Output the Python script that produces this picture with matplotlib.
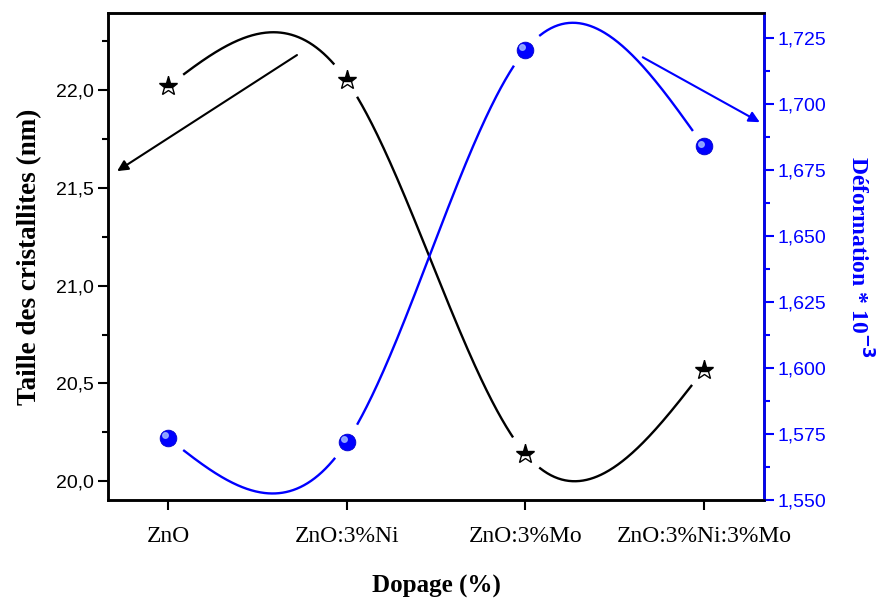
import numpy as np
import matplotlib.pyplot as plt
from matplotlib.ticker import FuncFormatter, MultipleLocator
from matplotlib.transforms import offset_copy

# echantillons
samples = ['ZnO', 'ZnO:3%Ni', 'ZnO:3%Mo', 'ZnO:3%Ni:3%Mo']
taille = [22.02, 22.05, 20.14, 20.57]          # nm
deformation = [1.5735, 1.572, 1.7205, 1.684]   # * 10^-3

BLUE = '#0000ff'
serif = ['Liberation Serif', 'DejaVu Serif']
sans = ['Liberation Sans', 'DejaVu Sans']


def natural_spline(y, n=600):
    # spline cubique naturelle, pas unitaire
    y = np.asarray(y, float)
    k = len(y)
    A = np.zeros((k, k))
    r = np.zeros(k)
    A[0, 0] = A[-1, -1] = 1
    for i in range(1, k - 1):
        A[i, i - 1:i + 2] = [1, 4, 1]
        r[i] = 6 * (y[i - 1] - 2 * y[i] + y[i + 1])
    M = np.linalg.solve(A, r)
    xs = np.linspace(0, k - 1, n)
    ys = np.empty_like(xs)
    for j, x in enumerate(xs):
        i = min(int(x), k - 2)
        t = x - i
        ys[j] = ((1 - t) * y[i] + t * y[i + 1]
                 + ((1 - t) ** 3 - (1 - t)) * M[i] / 6
                 + (t ** 3 - t) * M[i + 1] / 6)
    return xs, ys


def gapped(ax, xs, ys, xp, yp, gap=20):
    # coupe la courbe autour des symboles
    pts = ax.transData.transform(np.column_stack([xs, ys]))
    mk = ax.transData.transform(np.column_stack([xp, yp]))
    ys = ys.copy()
    for m in mk:
        d = np.hypot(pts[:, 0] - m[0], pts[:, 1] - m[1])
        ys[d < gap] = np.nan
    return ys


fig, ax = plt.subplots(figsize=(8.76, 6.01), dpi=100)
fig.subplots_adjust(left=0.1233, right=0.872, bottom=0.168, top=0.978)
ax2 = ax.twinx()

x = np.arange(len(samples))
ax.set_xlim(-0.336, 3.336)
ax.set_ylim(19.903, 22.394)
ax2.set_ylim(1.550, 1.7345)

xs, ys = natural_spline(taille)
ax.plot(xs, gapped(ax, xs, ys, x, taille), color='black', lw=1.7)
ax.plot(x, taille, ls='none', marker='*', ms=14, fillstyle='top',
        markerfacecolor='black', markerfacecoloralt='white',
        markeredgecolor='black', markeredgewidth=1.0)

xs2, ys2 = natural_spline(deformation)
ax2.plot(xs2, gapped(ax2, xs2, ys2, x, deformation), color=BLUE, lw=1.7)
ax2.plot(x, deformation, ls='none', marker='o', ms=12, color=BLUE,
         markeredgecolor='#0000cc', markeredgewidth=0.6)
hl = offset_copy(ax2.transData, fig=fig, x=-2, y=2, units='points')
ax2.plot(x, deformation, ls='none', marker='o', ms=4, color='#9ab0ff',
         alpha=0.9, transform=hl)

# fleches
ax.annotate('', xy=(-0.285, 21.586), xytext=(0.722, 22.18),
            arrowprops=dict(arrowstyle='-|>', color='black', lw=1.5,
                            mutation_scale=16, shrinkA=0, shrinkB=0))
ax2.annotate('', xy=(3.313, 1.6932), xytext=(2.658, 1.7178),
             arrowprops=dict(arrowstyle='-|>', color=BLUE, lw=1.5,
                             mutation_scale=16, shrinkA=0, shrinkB=0))

# axes
comma = lambda fmt: FuncFormatter(lambda v, p: (fmt % v).replace('.', ','))
ax.set_xticks(x)
ax.set_xticklabels(samples, fontfamily=serif, fontsize=17)
ax.yaxis.set_major_locator(MultipleLocator(0.5))
ax.yaxis.set_minor_locator(MultipleLocator(0.25))
ax.yaxis.set_major_formatter(comma('%.1f'))
ax2.yaxis.set_major_locator(MultipleLocator(0.025))
ax2.yaxis.set_minor_locator(MultipleLocator(0.0125))
ax2.yaxis.set_major_formatter(comma('%.3f'))

for a in (ax, ax2):
    for s in a.spines.values():
        s.set_linewidth(1.8)
ax2.spines['right'].set_color(BLUE)
ax.tick_params(axis='x', length=7, width=1.5, pad=12)
ax.tick_params(axis='y', which='major', length=7, width=1.5,
               labelsize=14, pad=3)
ax.tick_params(axis='y', which='minor', length=4, width=1.5)
ax2.tick_params(axis='y', which='major', length=7, width=1.5, color=BLUE,
                labelcolor=BLUE, labelsize=14, pad=3)
ax2.tick_params(axis='y', which='minor', length=4, width=1.5, color=BLUE)
for lab in ax.get_yticklabels() + ax2.get_yticklabels():
    lab.set_fontfamily(sans)

ax.set_xlabel('Dopage (%)', fontfamily=serif, fontweight='bold',
              fontsize=18, labelpad=20)
ax.set_ylabel('Taille des cristallites (nm)', fontfamily=serif,
              fontweight='bold', fontsize=19.5, labelpad=10)
ax2.set_ylabel(r'Déformation * 10$^{\mathbf{-3}}$', fontfamily=serif,
               fontweight='bold', fontsize=17, color=BLUE,
               rotation=270, labelpad=33)

fig.savefig('out.png', dpi=100)
